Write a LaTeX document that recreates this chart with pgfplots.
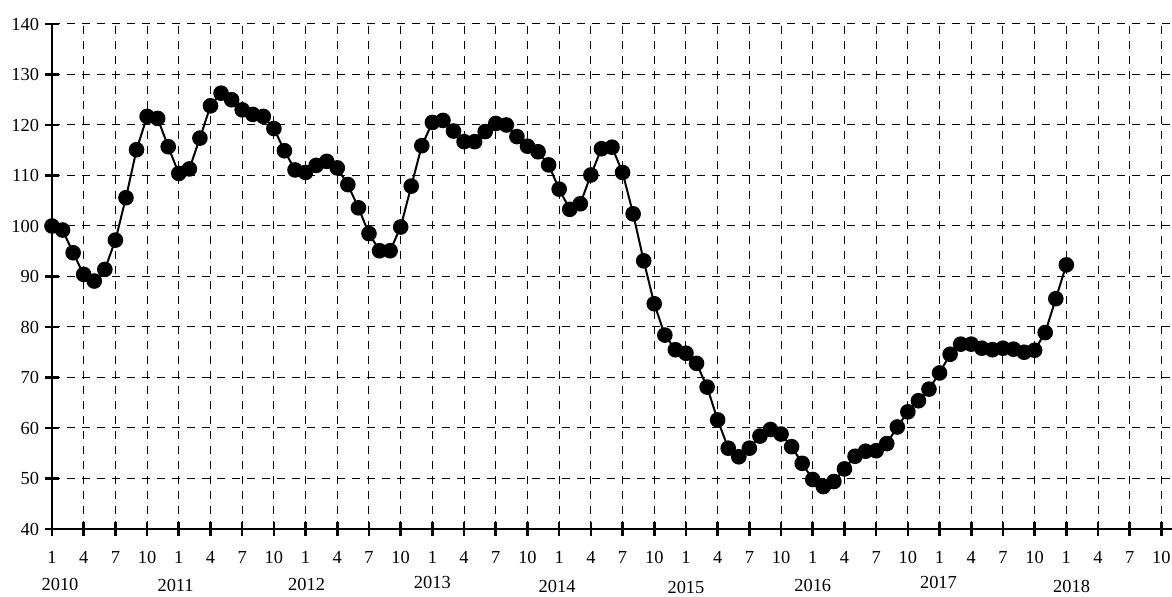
\documentclass[border=0pt]{standalone}
\usepackage{fontspec}
\setmainfont{Liberation Serif}
\usepackage{pgfplots}
\pgfplotsset{compat=1.18}
\usepackage{pgfplotstable}

% month index (0 = Jan 2010), value
\pgfplotstableread{
m v
0 100.0
1 99.2
2 94.7
3 90.4
4 89.1
5 91.4
6 97.2
7 105.6
8 115.1
9 121.7
10 121.3
11 115.7
12 110.4
13 111.3
14 117.4
15 123.8
16 126.3
17 125.0
18 123.0
19 122.1
20 121.7
21 119.3
22 114.9
23 111.1
24 110.6
25 112.0
26 112.8
27 111.5
28 108.2
29 103.6
30 98.5
31 95.1
32 95.1
33 99.8
34 107.9
35 115.9
36 120.5
37 120.9
38 118.8
39 116.7
40 116.7
41 118.7
42 120.3
43 120.0
44 117.7
45 115.8
46 114.7
47 112.1
48 107.3
49 103.3
50 104.4
51 110.1
52 115.3
53 115.6
54 110.6
55 102.4
56 93.1
57 84.6
58 78.4
59 75.5
60 74.8
61 72.8
62 68.1
63 61.6
64 56.0
65 54.3
66 56.0
67 58.4
68 59.7
69 58.8
70 56.3
71 53.0
72 49.8
73 48.4
74 49.4
75 51.9
76 54.4
77 55.4
78 55.5
79 56.9
80 60.2
81 63.2
82 65.4
83 67.7
84 70.9
85 74.6
86 76.6
87 76.6
88 75.8
89 75.5
90 75.8
91 75.6
92 75.0
93 75.4
94 78.9
95 85.6
96 92.3
}\datatable

\begin{document}
\begin{tikzpicture}
\begin{axis}[
    name=ax,
    scale only axis,
    width=560pt, height=252.5pt,
    xmin=0, xmax=106, ymin=40, ymax=140,
    axis x line=bottom, axis y line=left,
    axis line style={-, line width=1.3pt, black},
    xtick={0,3,...,105},
    xticklabels={1,4,7,10,1,4,7,10,1,4,7,10,1,4,7,10,1,4,7,10,1,4,7,10,1,4,7,10,1,4,7,10,1,4,7,10},
    ytick={40,50,...,140},
    tick align=center,
    major tick length=6.6pt,
    tick style={line width=1.3pt, black},
    grid=major,
    major grid style={line width=0.5pt, black, dash pattern=on 4pt off 3.5pt},
    /pgf/number format/assume math mode=true,
    tick label style={font=\fontsize{9.2}{11}\selectfont},
    xticklabel style={anchor=base, inner sep=0pt, yshift=-13.8pt},
    yticklabel style={anchor=east, inner sep=0pt, xshift=-3pt},
    clip=false,
]
\addplot[black, line width=1pt, mark=*, mark size=3.4pt, mark options={fill=black}]
    table[x=m, y=v] {\datatable};

\begin{scope}[every node/.style={anchor=base, inner sep=0pt, font=\fontsize{9.2}{11}\selectfont}]
\node at (axis cs:0.76,40) [yshift=-31pt] {2010};
\node at (axis cs:11.7,40) [yshift=-31.5pt] {2011};
\node at (axis cs:24.1,40) [yshift=-31pt] {2012};
\node at (axis cs:36,40) [yshift=-30pt] {2013};
\node at (axis cs:47.8,40) [yshift=-32pt] {2014};
\node at (axis cs:60,40) [yshift=-32.5pt] {2015};
\node at (axis cs:72,40) [yshift=-31.5pt] {2016};
\node at (axis cs:83.9,40) [yshift=-30pt] {2017};
\node at (axis cs:96.5,40) [yshift=-32pt] {2018};
\end{scope}
\end{axis}
\pgfresetboundingbox
\path[use as bounding box] ([xshift=-26pt,yshift=-34pt]ax.south west) rectangle ([yshift=12pt]ax.north east);
\end{tikzpicture}
\end{document}
